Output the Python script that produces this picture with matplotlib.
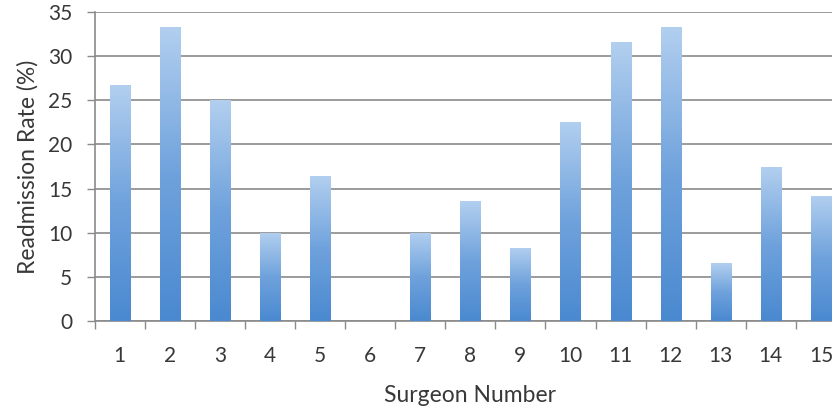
import matplotlib
matplotlib.use("Agg")
import matplotlib.pyplot as plt
import numpy as np
from matplotlib.colors import LinearSegmentedColormap

surgeons = ["1", "2", "3", "4", "5", "6", "7", "8", "9", "10", "11", "12", "13", "14", "15"]
readmission_rate = [26.7, 33.3, 25.0, 10.0, 16.4, 0.0, 10.0, 13.6, 8.3, 22.6, 31.6, 33.3, 6.5, 17.4, 14.2]
y_ticks = [0, 5, 10, 15, 20, 25, 30, 35]

plt.rcParams['font.family'] = ['Lato', 'DejaVu Sans']

fig = plt.figure(figsize=(8.32, 4.12), dpi=100)
ax = fig.add_axes([94.5 / 832, 91.3 / 412, (846 - 94.5) / 832, (399.7 - 91.3) / 412])

x = np.arange(1, len(surgeons) + 1)
bars = ax.bar(x, readmission_rate, width=0.4, color='none', edgecolor='none', zorder=3)

cmap = LinearSegmentedColormap.from_list("grad", ["#4a89d0", "#6fa2dc", "#b2cfef"])
grad = np.linspace(0, 1, 256).reshape(-1, 1)
for b in bars:
    h = b.get_height()
    if h <= 0:
        continue
    x0 = b.get_x()
    w = b.get_width()
    im = ax.imshow(grad, extent=[x0, x0 + w, 0, h], origin='lower', aspect='auto',
                   cmap=cmap, zorder=3, interpolation='bilinear')
    im.set_clip_path(b)

ax.set_xlim(0.5, 15.5)
ax.set_ylim(0, 35)
ax.set_yticks(y_ticks)
ax.yaxis.grid(True, color='#8a8a8a', linewidth=1.2, zorder=1)
ax.set_axisbelow(True)

ax.set_xticks(x)
ax.set_xticklabels(surgeons)
ax.set_xticks(np.arange(0.5, 16, 1), minor=True)
ax.tick_params(axis='x', which='major', length=0, pad=18, labelsize=15, labelcolor='#383838')
ax.tick_params(axis='x', which='minor', length=6, width=1, color='#8a8a8a', direction='out')
ax.tick_params(axis='y', length=6, width=1, color='#8a8a8a', pad=10, labelsize=15, labelcolor='#383838')

for s in ['top', 'right']:
    ax.spines[s].set_visible(False)
for s in ['left', 'bottom']:
    ax.spines[s].set_color('#8a8a8a')
    ax.spines[s].set_linewidth(1.2)

ax.set_ylabel("Readmission Rate (%)", fontsize=16.5, color='#383838', labelpad=7)
ax.set_xlabel("Surgeon Number", fontsize=16.5, color='#383838', labelpad=14)

fig.savefig("out.png", dpi=100)
